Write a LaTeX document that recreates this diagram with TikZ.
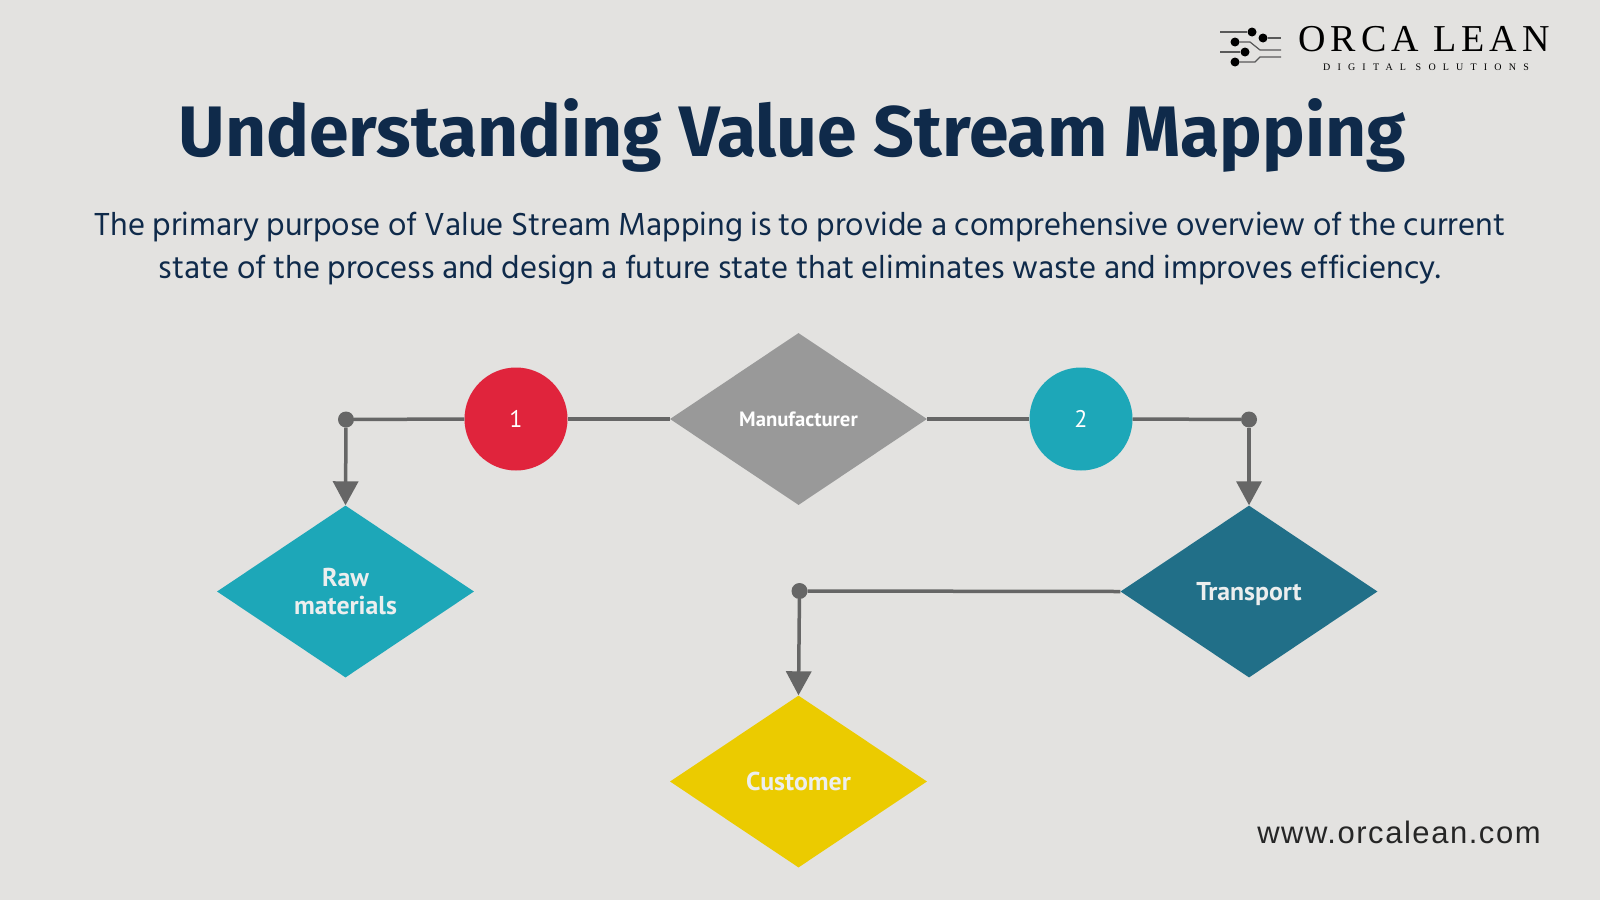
\documentclass[tikz,border=0pt]{standalone}
\usepackage{fontspec}
\setmainfont{Fira Sans}
\newfontfamily\titlefont{Fira Sans}
\newfontfamily\bodyfont{Hind Siliguri}
\newfontfamily\labelfont{PT Sans}
\newfontfamily\webfont[LetterSpace=5]{Liberation Sans}
\newfontfamily\logofont[LetterSpace=13]{Liberation Serif}
\newfontfamily\logosub[LetterSpace=72]{Liberation Serif}
\usetikzlibrary{shapes.geometric,arrows.meta}
\definecolor{bgc}{HTML}{E3E2E0}
\definecolor{navy}{HTML}{0F2A4A}
\definecolor{linec}{HTML}{666666}
\definecolor{tealc}{HTML}{1DA7B8}
\definecolor{darkteal}{HTML}{216F88}
\definecolor{grayc}{HTML}{999999}
\definecolor{yellowc}{HTML}{EBCB00}
\definecolor{redc}{HTML}{E0243C}
\definecolor{offwhite}{HTML}{ECEEEE}
\tikzset{
  x=1pt,y=-1pt,
  dia/.style={diamond,aspect=1.49,inner sep=0pt,minimum width=257pt,minimum height=172pt,text=white,align=center},
  circ/.style={circle,inner sep=0pt,minimum size=103pt,text=white,font=\labelfont\fontsize{24}{24}\selectfont},
  dotn/.style={circle,fill=linec,inner sep=0pt,minimum size=16pt},
  conn/.style={draw=linec,line width=3.5pt},
  arrowc/.style={conn,-{Triangle[length=24pt,width=25pt]}},
  logod/.style={circle,fill=black,inner sep=0pt,minimum size=9pt},
  logol/.style={draw=black!65,line width=1.2pt},
  biglabel/.style={text=offwhite,font=\labelfont\bfseries\fontsize{25.8}{28}\selectfont}
}
\begin{document}
\begin{tikzpicture}
\useasboundingbox[fill=bgc] (0,0) rectangle (1600,900);
\node[font=\titlefont\bfseries\fontsize{71.5}{72}\selectfont,text=navy] (title) at (792.3,135) {Understanding Value Stream Mapping};
\node[font=\bodyfont\fontsize{32.7}{43}\selectfont,text=navy,align=center] (body) at (800,248.5) {The primary purpose of Value Stream Mapping is to provide a comprehensive overview of the current\\state of the process and design a future state that eliminates waste and improves efficiency.};
\node[dia,fill=grayc,font=\labelfont\bfseries\fontsize{20.7}{20}\selectfont] (man) at (798.5,419) {Manufacturer};
\node[dia,fill=tealc,biglabel] (raw) at (345.5,591.5) {Raw\\materials};
\node[dia,fill=darkteal,biglabel] (trans) at (1249,591.5) {\raisebox{0pt}[\height][0pt]{Transport}};
\node[dia,fill=yellowc,biglabel] (cust) at (798.5,781.5) {Customer};
\node[circ,fill=redc] (c1) at (516,419) {1};
\node[circ,fill=tealc] (c2) at (1081,419) {2};
\node[dotn] (d1) at (346,419.5) {};
\node[dotn] (d2) at (1249,419.5) {};
\node[dotn] (d3) at (799.5,591) {};
\draw[conn] (man.west) -- (c1.east);
\draw[conn] (c1.west) -- (d1);
\draw[conn] (man.east) -- (c2.west);
\draw[conn] (c2.east) -- (d2);
\draw[conn] (trans.west) -- (d3);
\draw[arrowc] (d1) -- (raw.north);
\draw[arrowc] (d2) -- (trans.north);
\draw[arrowc] (d3) -- (cust.north);
\node[font=\webfont\fontsize{31}{32}\selectfont,text=black!85] (web) at (1399,832) {www.orcalean.com};
\node[font=\logofont\fontsize{38}{38}\selectfont,text=black] (logo) at (1424,39) {ORCA LEAN};
\node[font=\logosub\fontsize{10}{10}\selectfont,text=black] (logo2) at (1426,67) {DIGITAL SOLUTIONS};
\node[logod] (p1) at (1252,32) {};
\node[logod] (p2) at (1263,38) {};
\node[logod] (p3) at (1235,42) {};
\node[logod] (p4) at (1245,52) {};
\node[logod] (p5) at (1235,62) {};
\coordinate (q1) at (1220,32);
\coordinate (q2) at (1281,38);
\coordinate (q3) at (1260,50);
\coordinate (q4) at (1220,52);
\coordinate (q5) at (1281,50);
\coordinate (q6) at (1260,57);
\coordinate (q7) at (1281,57);
\coordinate (r1) at (1250,42);
\coordinate (r2) at (1255,62);
\draw[logol] (q1) -- (p1);
\draw[logol] (p2) -- (q2);
\draw[logol] (p3) -- (r1) -- (q3) -- (q5);
\draw[logol] (q4) -- (p4);
\draw[logol] (p5) -- (r2) -- (q6) -- (q7);
\end{tikzpicture}
\end{document}
